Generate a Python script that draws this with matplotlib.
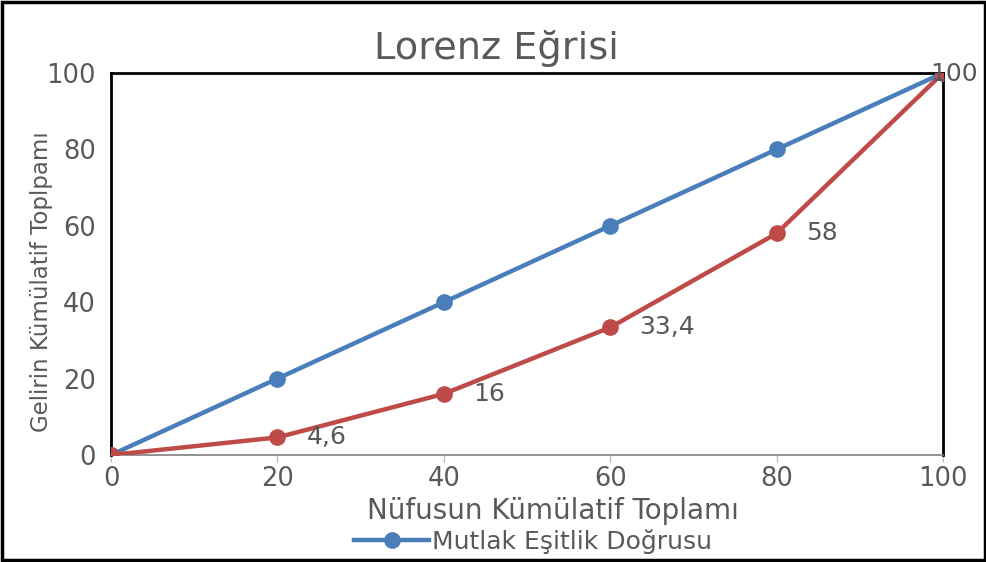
import matplotlib.pyplot as plt
from matplotlib.patches import Rectangle

# data
nufus = [0, 20, 40, 60, 80, 100]
esitlik = [0, 20, 40, 60, 80, 100]
gelir = [0, 4.6, 16, 33.4, 58, 100]
gelir_etiket = ["", "4,6", "16", "33,4", "58", "100"]

blue = "#4A7EBB"
red = "#BE4B48"
gray = "#595959"

plt.rcParams['font.family'] = ['DejaVu Sans']

fig = plt.figure(figsize=(9.87, 5.62), dpi=100)
ax = fig.add_axes([0.1125, 0.1904, 0.8429, 0.6797])

ax.plot(nufus, esitlik, color=blue, lw=3.2, marker='o', ms=11,
        label="Mutlak Eşitlik Doğrusu", zorder=3)
ax.plot(nufus, gelir, color=red, lw=3.2, marker='o', ms=11, zorder=4)

for x, y, t in zip(nufus, gelir, gelir_etiket):
    if not t:
        continue
    off = (-9, -1) if x == 100 else (21, 0)
    ax.annotate(t, (x, y), xytext=off, textcoords='offset points',
                ha='left', va='center', fontsize=18, color=gray, zorder=5)

ax.set_xlim(0, 100)
ax.set_ylim(0, 100)
ax.set_xticks(nufus)
ax.set_yticks([0, 20, 40, 60, 80, 100])
ax.tick_params(axis='x', colors='#BFBFBF', labelcolor=gray, labelsize=18.5,
               length=5, width=1, pad=3)
ax.tick_params(axis='y', length=0, labelcolor=gray, labelsize=18.5, pad=11)

for s in ['top', 'left', 'right']:
    ax.spines[s].set_color('black')
    ax.spines[s].set_linewidth(2)
ax.spines['bottom'].set_color('#7F7F7F')
ax.spines['bottom'].set_linewidth(1.2)

ax.set_title("Lorenz Eğrisi", fontsize=27.5, color=gray, pad=10, x=0.463)
ax.set_xlabel("Nüfusun Kümülatif Toplamı", fontsize=20, color=gray)
ax.set_ylabel("Gelirin Kümülatif Toplpamı", fontsize=16.5, color=gray)
ax.xaxis.set_label_coords(0.531, -0.11)
ax.yaxis.set_label_coords(-0.07, 0.455)

leg = fig.legend(loc='lower center', bbox_to_anchor=(0.54, -0.025), frameon=False,
                 fontsize=18, handlelength=3.0, handletextpad=0.1)
for t in leg.get_texts():
    t.set_color(gray)

fig.patches.append(Rectangle((0.002, 0.004), 0.996, 0.992, transform=fig.transFigure,
                             fill=False, edgecolor='black', lw=2.5))

fig.savefig("out.png", dpi=100)
